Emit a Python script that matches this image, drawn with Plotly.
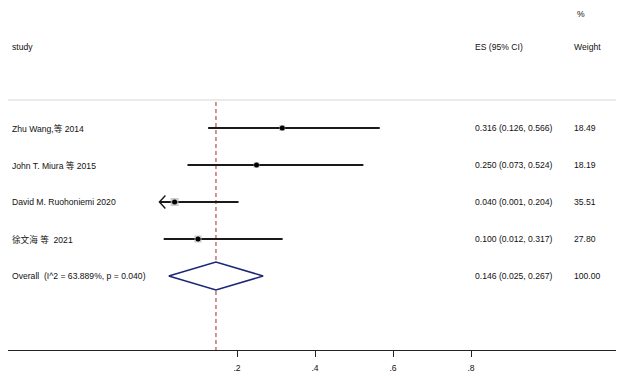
import plotly.graph_objects as go
import numpy as np

# ---- data ----
studies = ["Zhu Wang,等 2014", "John T. Miura 等 2015", "David M. Ruohoniemi 2020", "徐文海 等\u00a0\u00a02021"]
es = [0.316, 0.250, 0.040, 0.100]
lo = [0.126, 0.073, 0.001, 0.012]
hi = [0.566, 0.524, 0.204, 0.317]
weights = [18.49, 18.19, 35.51, 27.80]
es_text = ["0.316 (0.126, 0.566)", "0.250 (0.073, 0.524)", "0.040 (0.001, 0.204)", "0.100 (0.012, 0.317)"]
w_text = ["18.49", "18.19", "35.51", "27.80"]

overall_label = "Overall\u00a0\u00a0(I^2 = 63.889%, p = 0.040)"
overall_es = 0.146
overall_lo = 0.025
overall_hi = 0.267
overall_es_text = "0.146 (0.025, 0.267)"
overall_w_text = "100.00"

tick_vals = [0.2, 0.4, 0.6, 0.8]
tick_text = [".2", ".4", ".6", ".8"]

# ---- layout constants (screen pixel targets; page body has an 8px margin) ----
OFF = 8
W, H = 624 - OFF, 378 - OFF
PX_PER_UNIT = 390.0
X0_PX = 159.0
ROW_PX = 37.0
ROW0_PX = 91.0
AXIS_PX = 350.0

def px2x(p):
    return (p - X0_PX) / PX_PER_UNIT

def px2y(p):
    return (p - ROW0_PX) / ROW_PX

FONT = "Liberation Sans, Arial, Noto Sans CJK SC, sans-serif"
FS = 8.6

rows = list(range(1, len(studies) + 1))
overall_row = len(studies) + 1

fig = go.Figure()

# CI lines
for r, l, h in zip(rows, lo, hi):
    fig.add_trace(go.Scatter(x=[l, h], y=[r, r], mode="lines",
                             line=dict(color="#1a1a1a", width=1.8),
                             hoverinfo="skip", showlegend=False))

# arrow for truncated lower CI (David)
i_arrow = 2
ax_ = lo[i_arrow]
dx = 6 / PX_PER_UNIT
dy = 6.5 / ROW_PX
fig.add_trace(go.Scatter(x=[ax_ + dx, ax_, ax_ + dx],
                         y=[rows[i_arrow] - dy, rows[i_arrow], rows[i_arrow] + dy],
                         mode="lines", line=dict(color="#1a1a1a", width=1.4),
                         hoverinfo="skip", showlegend=False))

# weight boxes
box_sizes = [np.sqrt(w) * 1.35 for w in weights]
fig.add_trace(go.Scatter(x=es, y=rows, mode="markers",
                         marker=dict(symbol="square", size=box_sizes, color="#b8b8b8",
                                     line=dict(width=0)),
                         hoverinfo="skip", showlegend=False))
# point estimates
fig.add_trace(go.Scatter(x=es, y=rows, mode="markers",
                         marker=dict(symbol="circle", size=5, color="black"),
                         hoverinfo="skip", showlegend=False))

# overall diamond
dh = 14 / ROW_PX
fig.add_trace(go.Scatter(x=[overall_lo, overall_es, overall_hi, overall_es, overall_lo],
                         y=[overall_row, overall_row - dh, overall_row, overall_row + dh, overall_row],
                         mode="lines", line=dict(color="#1c2677", width=1.5),
                         fill="toself", fillcolor="white",
                         hoverinfo="skip", showlegend=False))

shapes = []
# header separator
shapes.append(dict(type="line", xref="paper", yref="y", x0=0, x1=1,
                   y0=px2y(100), y1=px2y(100),
                   line=dict(color="#d6d6d6", width=1)))
# overall null line (dashed)
shapes.append(dict(type="line", xref="x", yref="y", x0=overall_es, x1=overall_es,
                   y0=px2y(102), y1=px2y(AXIS_PX),
                   line=dict(color="rgba(190,95,105,0.75)", width=1.8, dash="4px,3px"),
                   layer="below"))

annotations = []
def txt(x, y, s, yanchor="middle"):
    annotations.append(dict(x=x, y=y, xref="x", yref="y", text=s, showarrow=False,
                            xanchor="left", yanchor=yanchor, borderpad=0,
                            font=dict(family=FONT, size=FS, color="#111111")))

COL_STUDY = px2x(11)
COL_ES = px2x(474)
COL_W = px2x(573)

txt(COL_STUDY, px2y(47), "study")
txt(COL_ES, px2y(47), "ES (95% CI)")
txt(COL_W, px2y(47), "Weight")
txt(px2x(576), px2y(OFF), "%", yanchor="top")

for r, s, e, w in zip(rows, studies, es_text, w_text):
    txt(COL_STUDY, r, s)
    txt(COL_ES, r, e)
    txt(COL_W, r, w)
txt(COL_STUDY, overall_row, overall_label)
txt(COL_ES, overall_row, overall_es_text)
txt(COL_W, overall_row, overall_w_text)

PLOT_H = AXIS_PX - OFF
fig.update_layout(
    width=W, height=H,
    margin=dict(l=0, r=0, t=0, b=H - PLOT_H),
    paper_bgcolor="white", plot_bgcolor="white",
    shapes=shapes, annotations=annotations,
    showlegend=False,
    xaxis=dict(domain=[0, 1], range=[px2x(OFF), px2x(624)],
               showgrid=False, zeroline=False,
               showline=True, linecolor="#222222", linewidth=1.3,
               ticks="outside", ticklen=6, tickwidth=1.3, tickcolor="#222222",
               tickvals=tick_vals, ticktext=tick_text, ticklabelstandoff=4,
               tickfont=dict(family=FONT, size=FS, color="#111111"),
               fixedrange=True),
    yaxis=dict(range=[px2y(AXIS_PX), px2y(OFF)], visible=False, showgrid=False,
               zeroline=False, fixedrange=True),
)

fig.write_html("out.html")
